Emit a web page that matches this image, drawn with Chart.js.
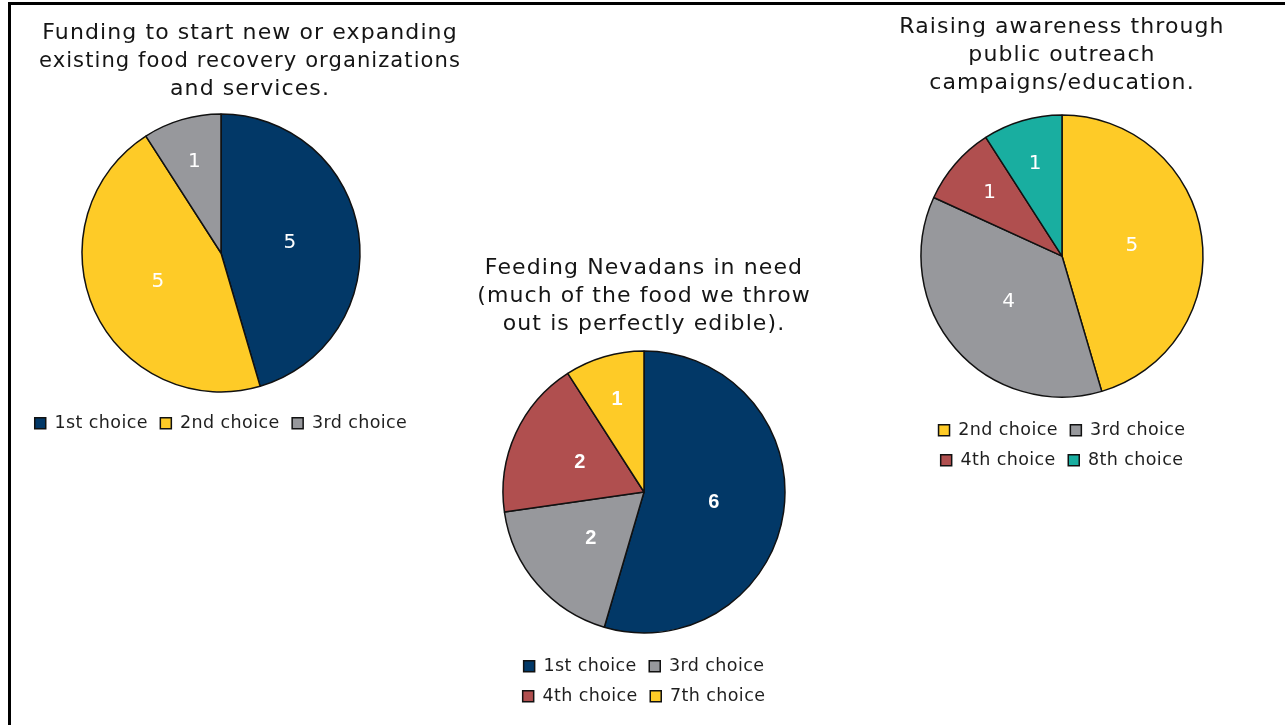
<!DOCTYPE html>
<html>
<head>
<meta charset="utf-8">
<script src="https://cdn.jsdelivr.net/npm/chart.js"></script>
<style>
  html, body { margin: 0; padding: 0; background: #fff; }
  body { width: 1285px; height: 725px; position: relative; overflow: hidden; }
  .frame { position: absolute; left: 8px; top: 2px; width: 1290px; height: 740px;
           border-top: 3px solid #000; border-left: 3px solid #000; }
  .box { position: absolute; }
</style>
</head>
<body>
<div class="frame"></div>
<div class="box" style="left:10px; top:8px; width:450px; height:434px;"><canvas id="pie1"></canvas></div>
<div class="box" style="left:459px; top:240px; width:370px; height:475px;"><canvas id="pie2"></canvas></div>
<div class="box" style="left:877px; top:8px; width:370px; height:471px;"><canvas id="pie3"></canvas></div>
<script>
// chart 1 - funding
const title1 = ['Funding to start new or expanding', 'existing food recovery organizations', 'and services.'];
const labels1 = ['1st choice', '2nd choice', '3rd choice'];
const values1 = [5, 5, 1];

// chart 2 - feeding Nevadans
const title2 = ['Feeding Nevadans in need', '(much of the food we throw', 'out is perfectly edible).'];
const labels2 = ['1st choice', '3rd choice', '4th choice', '7th choice'];
const values2 = [6, 2, 2, 1];

// chart 3 - awareness
const title3 = ['Raising awareness through', 'public outreach', 'campaigns/education.'];
const labels3 = ['2nd choice', '3rd choice', '4th choice', '8th choice'];
const values3 = [5, 4, 1, 1];

// one colour per choice, same in every chart
const CHOICE_COLORS = {
  '1st choice': '#023867',
  '2nd choice': '#FECB27',
  '3rd choice': '#97989C',
  '4th choice': '#B04F4F',
  '7th choice': '#FECB27',
  '8th choice': '#19AEA0',
};

const FONT = '"DejaVu Sans", sans-serif';
const TITLE_SPACING = '1.1px';
const LEGEND_SPACING = '0.4px';

// white value labels inside the slices, small slices pushed outwards
const sliceLabels = {
  id: 'sliceLabels',
  afterDatasetsDraw(chart, args, opts) {
    const ctx = chart.ctx;
    const meta = chart.getDatasetMeta(0);
    const data = chart.data.datasets[0].data;
    ctx.save();
    ctx.letterSpacing = '0px';
    ctx.fillStyle = '#fff';
    ctx.font = opts.font || ('20px ' + FONT);
    ctx.textAlign = 'center';
    ctx.textBaseline = 'middle';
    meta.data.forEach((arc, i) => {
      const p = arc.getProps(['x', 'y', 'startAngle', 'endAngle', 'outerRadius'], true);
      const mid = (p.startAngle + p.endAngle) / 2;
      const f = (p.endAngle - p.startAngle) < 0.8 ? 0.68 : 0.5;
      ctx.fillText(String(data[i]), p.x + Math.cos(mid) * p.outerRadius * f, p.y + Math.sin(mid) * p.outerRadius * f);
    });
    ctx.restore();
  }
};

// wider lettering (the source font is a wide geometric sans) + optional title offset
const lettering = {
  id: 'lettering',
  beforeLayout(chart) {
    chart.ctx.letterSpacing = LEGEND_SPACING;
  },
  afterLayout(chart, args, opts) {
    const tb = chart.titleBlock;
    if (!tb) return;
    const dx = opts.dx || 0;
    tb.left += dx;
    tb.right += dx;
    if (!tb._spaced) {
      const orig = tb.draw.bind(tb);
      tb.draw = function () {
        chart.ctx.save();
        chart.ctx.letterSpacing = TITLE_SPACING;
        orig();
        chart.ctx.restore();
      };
      tb._spaced = true;
    }
  },
  beforeDraw(chart) {
    chart.ctx.letterSpacing = LEGEND_SPACING;
  }
};

function makePie(id, title, labels, values, o) {
  return new Chart(document.getElementById(id), {
    type: 'pie',
    data: {
      labels,
      datasets: [{
        data: values,
        backgroundColor: labels.map((l) => CHOICE_COLORS[l]),
        borderColor: '#111',
        borderWidth: 1.5,
        radius: o.radius,
      }],
    },
    plugins: [sliceLabels, lettering],
    options: {
      responsive: true,
      maintainAspectRatio: false,
      animation: false,
      layout: { padding: o.padding || 0 },
      plugins: {
        title: {
          display: true,
          text: title,
          color: '#151515',
          font: { family: FONT, size: 22, weight: 'normal', lineHeight: 1.29 },
          padding: o.titlePad,
        },
        legend: {
          position: 'bottom',
          labels: {
            color: '#1e1e1e',
            font: { family: FONT, size: 17.5 },
            boxWidth: 11,
            boxHeight: 11,
            padding: 12.5,
          },
        },
        tooltip: { enabled: false },
        sliceLabels: { font: o.labelFont },
        lettering: { dx: o.titleDx || 0 },
      },
    },
  });
}

makePie('pie1', title1, labels1, values1, {
  radius: 139, padding: { left: 0, right: 28 }, titlePad: { top: 10.8, bottom: 0 }, titleDx: 29,
  labelFont: '20px ' + FONT,
});
makePie('pie2', title2, labels2, values2, {
  radius: 141, titlePad: { top: 13.8, bottom: 0 },
  labelFont: 'bold 20px "Liberation Sans", Arial, sans-serif',
});
makePie('pie3', title3, labels3, values3, {
  radius: 141, titlePad: { top: 4.8, bottom: 5.2 },
  labelFont: '20px ' + FONT,
});
</script>
</body>
</html>
